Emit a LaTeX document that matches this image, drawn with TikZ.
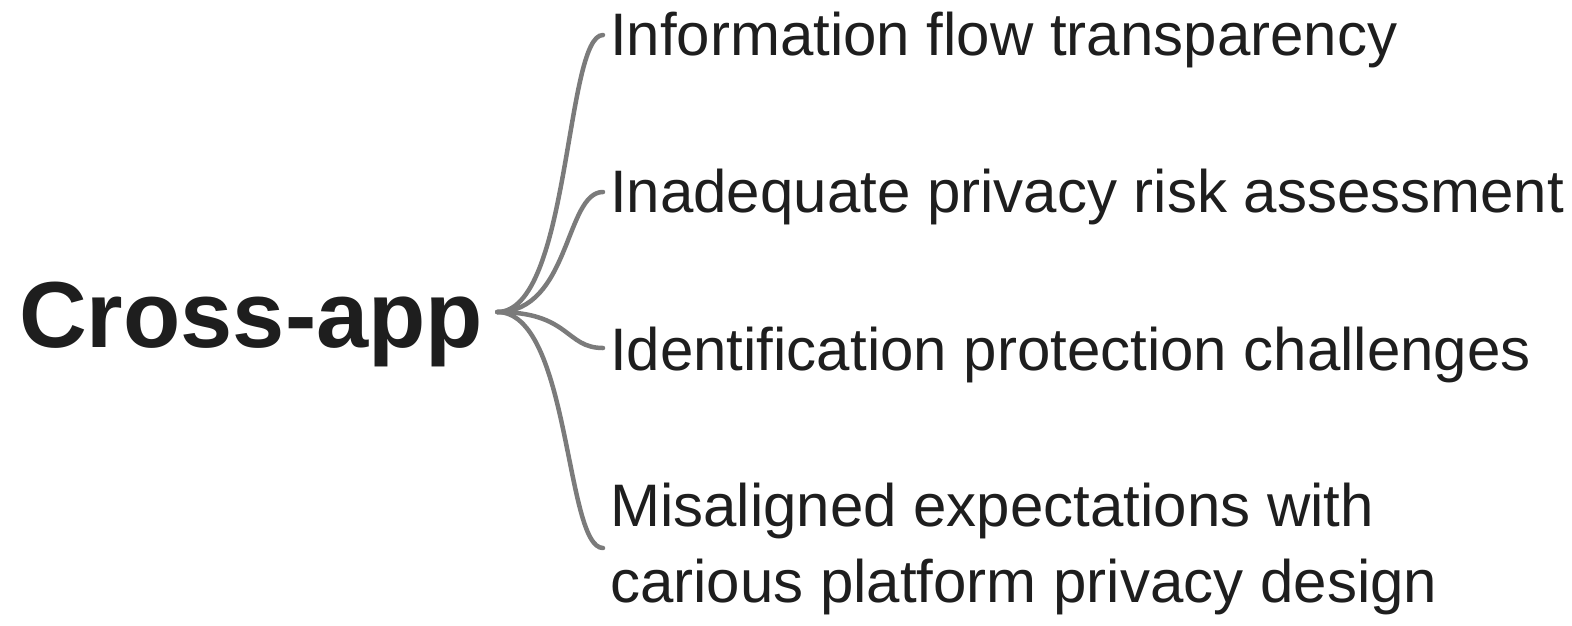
\documentclass[tikz,border=0pt]{standalone}
\usepackage{fontspec}
\setmainfont{Liberation Sans}
\usetikzlibrary{calc}
\definecolor{ink}{HTML}{1E1E1E}
\definecolor{branch}{HTML}{7B7B7B}
\tikzset{
  rootlabel/.style={inner sep=0pt, anchor=base west, text=ink,
    font=\fontsize{93.8}{100}\selectfont\bfseries},
  leaflabel/.style={inner sep=0pt, anchor=base west, text=ink, align=left,
    font=\fontsize{60}{76}\selectfont},
  link/.style={draw=branch, line width=4.5pt, line cap=round}
}
\begin{document}
\begin{tikzpicture}[x=1pt, y=-1pt]
  \useasboundingbox (0,0) rectangle (1572,625);
  % root topic
  \node[rootlabel] (root) at (19,347) {Cross-app};
  % branches (the two-line label sits on its last baseline)
  \node[leaflabel] (t1) at (610,55)  {Information flow transparency};
  \node[leaflabel] (t2) at (610,212) {Inadequate privacy risk assessment};
  \node[leaflabel] (t3) at (610,370) {Identification protection challenges};
  \node[leaflabel] (t4) at (610,602) {Misaligned expectations with\\carious platform privacy design};
  % link end points
  \coordinate (hub) at ([xshift=14pt,yshift=35pt]root.base east);
  \coordinate (e1) at ([xshift=-7pt,yshift=20pt]t1.base west);
  \coordinate (e2) at ([xshift=-7pt,yshift=20pt]t2.base west);
  \coordinate (e3) at ([xshift=-7pt,yshift=22pt]t3.base west);
  \coordinate (e4) at ([xshift=-7pt,yshift=54pt]t4.base west);
  \foreach \e in {e1,e2,e3,e4}
    \draw[link] (hub) .. controls +(73,0) and +(-38,0) .. (\e);
\end{tikzpicture}
\end{document}
